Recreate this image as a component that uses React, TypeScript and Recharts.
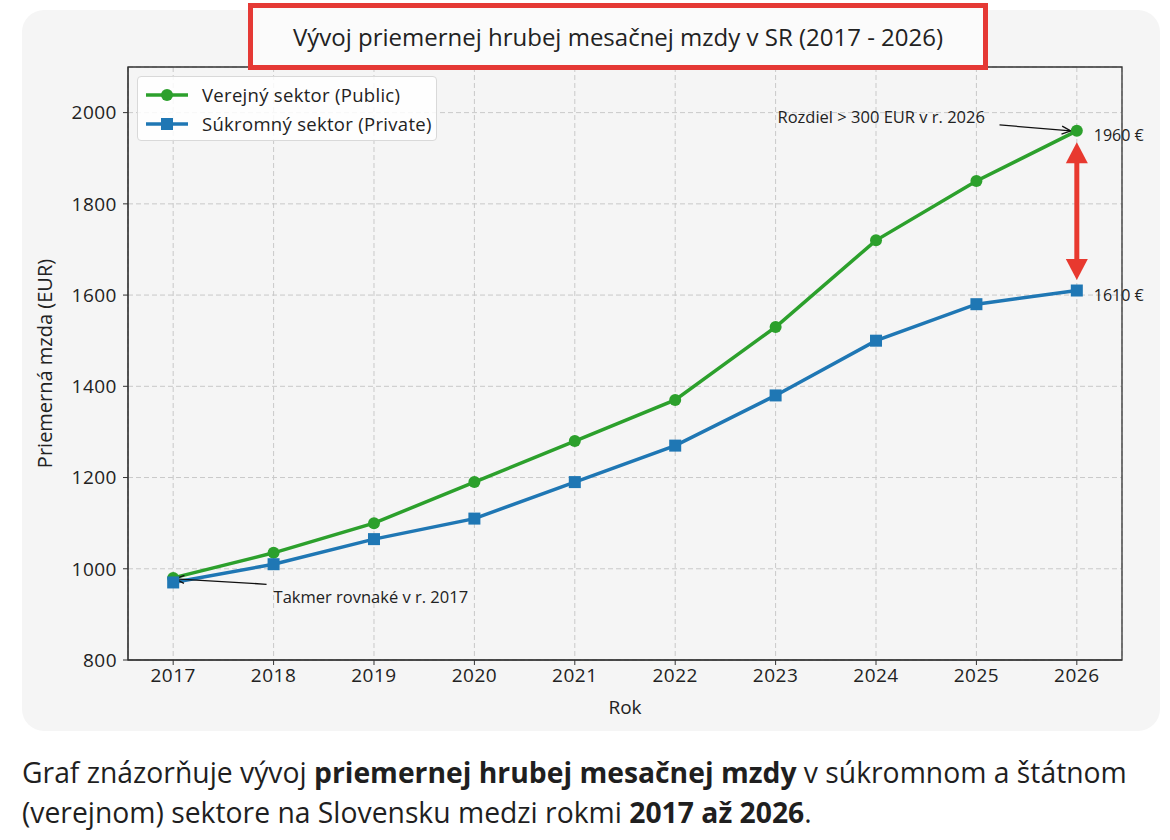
import {
  LineChart,
  Line,
  XAxis,
  YAxis,
  CartesianGrid,
  Legend,
  ReferenceLine,
  ReferenceDot,
  ReferenceArea,
} from "recharts";

const YEARS = [2017, 2018, 2019, 2020, 2021, 2022, 2023, 2024, 2025, 2026];
const PUBLIC_SECTOR = [980, 1035, 1100, 1190, 1280, 1370, 1530, 1720, 1850, 1960];
const PRIVATE_SECTOR = [970, 1010, 1065, 1110, 1190, 1270, 1380, 1500, 1580, 1610];
const Y_TICKS = [800, 1000, 1200, 1400, 1600, 1800, 2000];

const X_DOMAIN = [2016.55, 2026.45];
const Y_DOMAIN = [800, 2100];

const GREEN = "#2ca02c";
const BLUE = "#1f77b4";
const RED = "#e8392f";
const FONT = "'Open Sans', 'Noto Sans', sans-serif";
const TICK_STYLE = { fontSize: 19, fill: "#222", letterSpacing: 0.5 };

const data = YEARS.map((year, i) => ({
  year,
  public: PUBLIC_SECTOR[i],
  private: PRIVATE_SECTOR[i],
}));

const lastIdx = YEARS.length - 1;

// thin black arrow with an open ">" head, text drawn at the tail end
const annotationArrow =
  (text: string, dx: number, dy: number) => (props: any) => {
    const { x1, y1, x2, y2 } = props;
    const len = Math.hypot(x2 - x1, y2 - y1) || 1;
    const ux = (x2 - x1) / len;
    const uy = (y2 - y1) / len;
    const L = 9;
    const W = 4;
    const bx = x2 - ux * L;
    const by = y2 - uy * L;
    return (
      <g>
        <line x1={x1} y1={y1} x2={x2} y2={y2} stroke="#111" strokeWidth={1.3} />
        <polyline
          points={`${bx - uy * W},${by + ux * W} ${x2},${y2} ${bx + uy * W},${by - ux * W}`}
          fill="none"
          stroke="#111"
          strokeWidth={1.3}
        />
        <text
          x={x1 + dx}
          y={y1 + dy}
          fontSize={16.5}
          fill="#222"
          fontFamily={FONT}
          dominantBaseline="central"
        >
          {text}
        </text>
      </g>
    );
  };

// thick red two-headed arrow between the 2026 values
const gapArrow = (props: any) => {
  const { x1, y1, x2, y2 } = props;
  const head = 21;
  const half = 11;
  return (
    <g>
      <line x1={x1} y1={y1 + head - 2} x2={x2} y2={y2 - head + 2} stroke={RED} strokeWidth={5} />
      <polygon points={`${x1},${y1} ${x1 - half},${y1 + head} ${x1 + half},${y1 + head}`} fill={RED} />
      <polygon points={`${x2},${y2} ${x2 - half},${y2 - head} ${x2 + half},${y2 - head}`} fill={RED} />
    </g>
  );
};

const valueTag = (value: number) => (props: any) => (
  <text
    x={props.cx + 17}
    y={props.cy + 4}
    fontSize={16}
    fill="#222"
    fontFamily={FONT}
    dominantBaseline="central"
  >
    {`${value} €`}
  </text>
);

const SquareDot = (props: any) => {
  const { cx, cy, index } = props;
  return <rect key={`sq-${index}`} x={cx - 6} y={cy - 6} width={12} height={12} fill={BLUE} />;
};

const LegendIcon = ({ color, square }: { color: string; square?: boolean }) => (
  <svg width={42} height={14} style={{ marginRight: 14 }}>
    <line x1={0} y1={7} x2={42} y2={7} stroke={color} strokeWidth={3.5} />
    {square ? (
      <rect x={15} y={1} width={12} height={12} fill={color} />
    ) : (
      <circle cx={21} cy={7} r={6} fill={color} />
    )}
  </svg>
);

const renderLegend = () => (
  <div
    style={{
      width: 300,
      height: 65,
      boxSizing: "border-box",
      border: "1px solid #d9d9d9",
      borderRadius: 4,
      background: "rgba(255,255,255,0.85)",
      padding: "3px 0 0 8px",
      fontFamily: FONT,
      fontSize: 18.5,
      letterSpacing: 0.3,
      color: "#222",
    }}
  >
    <div style={{ display: "flex", alignItems: "center", height: 29, whiteSpace: "nowrap" }}>
      <LegendIcon color={GREEN} />
      Verejný sektor (Public)
    </div>
    <div style={{ display: "flex", alignItems: "center", height: 29, whiteSpace: "nowrap" }}>
      <LegendIcon color={BLUE} square />
      Súkromný sektor (Private)
    </div>
  </div>
);

const yAxisTitle = (props: any) => {
  const { viewBox } = props;
  const cx = 44;
  const cy = viewBox.y + viewBox.height / 2;
  return (
    <text
      x={cx}
      y={cy}
      transform={`rotate(-90 ${cx} ${cy})`}
      textAnchor="middle"
      dominantBaseline="central"
      fontSize={20}
      fill="#222"
      fontFamily={FONT}
    >
      Priemerná mzda (EUR)
    </text>
  );
};

export default function App() {
  return (
    <div
      style={{
        position: "absolute",
        left: 0,
        top: 0,
        width: 1170,
        height: 840,
        background: "#ffffff",
        overflow: "hidden",
        fontFamily: FONT,
      }}
    >
      <div
        style={{
          position: "absolute",
          left: 22,
          top: 10,
          width: 1138,
          height: 721,
          borderRadius: 22,
          background: "#f5f5f5",
        }}
      />

      <div style={{ position: "absolute", left: 0, top: 0 }}>
        <LineChart
          width={1170}
          height={740}
          data={data}
          margin={{ top: 67, right: 48, bottom: 20, left: 0 }}
          style={{ fontFamily: FONT }}
        >
          <CartesianGrid stroke="#c9c9c9" strokeDasharray="5 3" strokeWidth={1} />
          <XAxis
            dataKey="year"
            type="number"
            domain={X_DOMAIN}
            ticks={YEARS}
            interval={0}
            allowDataOverflow
            height={60}
            tickSize={5}
            tickMargin={4}
            stroke="#333"
            tick={TICK_STYLE}
            label={{ value: "Rok", position: "insideBottom", offset: 6, fontSize: 19, fill: "#222" }}
          />
          <YAxis
            type="number"
            domain={Y_DOMAIN}
            ticks={Y_TICKS}
            interval={0}
            allowDataOverflow
            width={128}
            tickSize={5}
            tickMargin={6}
            stroke="#333"
            tick={TICK_STYLE}
            label={{ content: yAxisTitle }}
          />
          <ReferenceArea
            x1={X_DOMAIN[0]}
            x2={X_DOMAIN[1]}
            y1={Y_DOMAIN[0]}
            y2={Y_DOMAIN[1]}
            fill="none"
            stroke="#333"
            strokeWidth={1.3}
            ifOverflow="visible"
          />
          <Legend
            layout="vertical"
            align="center"
            verticalAlign="middle"
            content={renderLegend}
            wrapperStyle={{ left: 137, top: 76, width: 300 }}
          />
          <Line
            type="linear"
            dataKey="public"
            name="Verejný sektor (Public)"
            stroke={GREEN}
            strokeWidth={3.5}
            dot={{ r: 6, fill: GREEN, stroke: GREEN, strokeWidth: 0 }}
            isAnimationActive={false}
          />
          <Line
            type="linear"
            dataKey="private"
            name="Súkromný sektor (Private)"
            stroke={BLUE}
            strokeWidth={3.5}
            dot={SquareDot}
            isAnimationActive={false}
          />
          <ReferenceLine
            segment={[
              { x: 2025.23, y: 1973 },
              { x: 2025.94, y: PUBLIC_SECTOR[lastIdx] },
            ]}
            ifOverflow="visible"
            shape={annotationArrow("Rozdiel > 300 EUR v r. 2026", -222, -8)}
          />
          <ReferenceLine
            segment={[
              { x: 2017.93, y: 966 },
              { x: 2017.02, y: (PUBLIC_SECTOR[0] + PRIVATE_SECTOR[0]) / 2 + 3 },
            ]}
            ifOverflow="visible"
            shape={annotationArrow("Takmer rovnaké v r. 2017", 7, 12)}
          />
          <ReferenceLine
            segment={[
              { x: 2026, y: 1935 },
              { x: 2026, y: 1633 },
            ]}
            ifOverflow="visible"
            shape={gapArrow}
          />
          <ReferenceDot
            x={2026}
            y={PUBLIC_SECTOR[lastIdx]}
            ifOverflow="visible"
            shape={valueTag(PUBLIC_SECTOR[lastIdx])}
          />
          <ReferenceDot
            x={2026}
            y={PRIVATE_SECTOR[lastIdx]}
            ifOverflow="visible"
            shape={valueTag(PRIVATE_SECTOR[lastIdx])}
          />
        </LineChart>
      </div>

      <div
        style={{
          position: "absolute",
          left: 248,
          top: 3,
          width: 740,
          height: 67,
          boxSizing: "border-box",
          border: "5px solid #e53935",
          background: "#fbfbfb",
          display: "flex",
          alignItems: "center",
          justifyContent: "center",
          fontSize: 24,
          color: "#222",
        }}
      >
        Vývoj priemernej hrubej mesačnej mzdy v SR (2017 - 2026)
      </div>

      <div
        style={{
          position: "absolute",
          left: 22,
          top: 752,
          width: 1145,
          fontSize: 28.3,
          lineHeight: "40px",
          color: "#1f1f1f",
          whiteSpace: "nowrap",
        }}
      >
        Graf znázorňuje vývoj <b>priemernej hrubej mesačnej mzdy</b> v súkromnom a štátnom
        <br />
        (verejnom) sektore na Slovensku medzi rokmi <b>2017 až 2026</b>.
      </div>
    </div>
  );
}
